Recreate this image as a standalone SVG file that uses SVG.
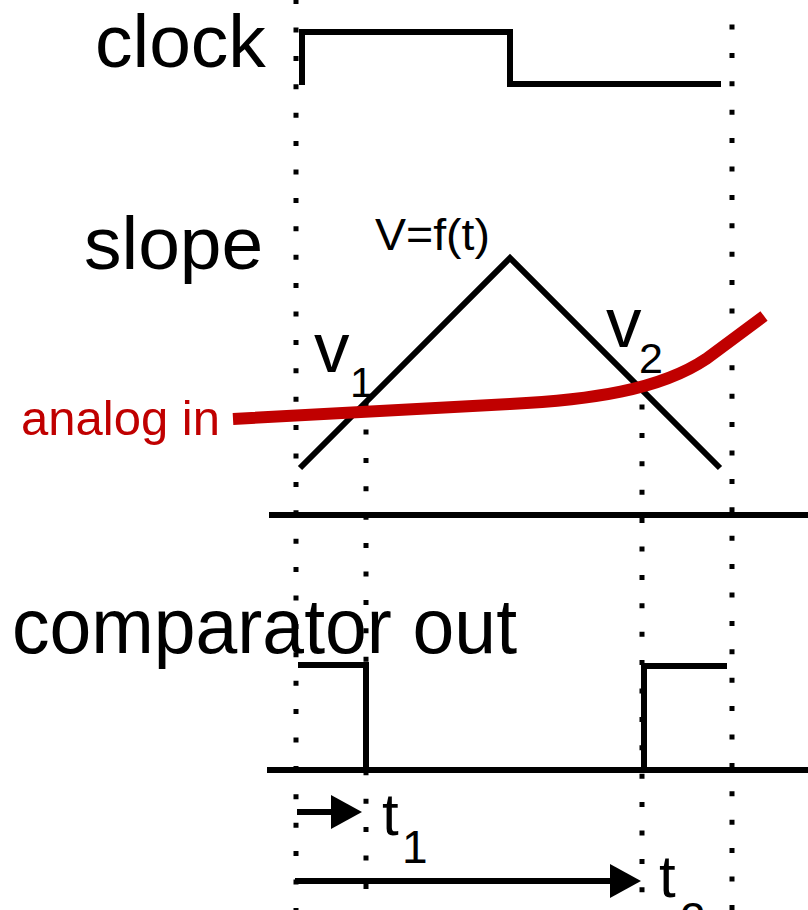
<svg xmlns="http://www.w3.org/2000/svg" width="808" height="910" viewBox="0 0 808 910">
<style>
.ln{fill:none;stroke:#000;stroke-width:6}
.dot{fill:none;stroke:#000;stroke-width:5;stroke-dasharray:5 23.4}
.red{fill:none;stroke:#c00000;stroke-width:12}
.txt{font-family:"Liberation Sans",Arial,Helvetica,sans-serif;fill:#000}
.arr{fill:none;stroke:#000;stroke-width:6;marker-end:url(#ah)}
</style>
<defs>
<marker id="ah" markerUnits="userSpaceOnUse" viewBox="0 0 31 34" markerWidth="31" markerHeight="34" refX="0" refY="17" orient="auto">
<path d="M0,0 L31,17 L0,34 z" fill="#000"/>
</marker>
</defs>
<rect width="808" height="910" fill="#fff"/>
<g id="guides">
<line class="dot" x1="296" y1="-0.9" x2="296" y2="910"/>
<line class="dot" x1="366" y1="401.1" x2="366" y2="910"/>
<line class="dot" x1="642" y1="404.5" x2="642" y2="910"/>
<line class="dot" x1="732" y1="24.5" x2="732" y2="910"/>
</g>
<g id="clock">
<text class="txt" x="95" y="67" font-size="75">clock</text>
<path class="ln" d="M302,85 V32 H510 V84 H721"/>
</g>
<g id="slope">
<text class="txt" x="84" y="269" font-size="75">slope</text>
<path class="ln" d="M300,468 L510,258 L720,468"/>
<text class="txt" x="375" y="250" font-size="44" textLength="115" lengthAdjust="spacingAndGlyphs">V=f(t)</text>
</g>
<g id="analog">
<path class="red" d="M233,419 L510,404 C590,400 660,390 706,359 L764,316"/>
<text class="txt" x="21" y="435" font-size="49" fill="#c00000" style="fill:#c00000">analog in</text>
</g>
<g id="v1">
<text class="txt" x="314" y="372" font-size="71">v</text>
<text class="txt" x="350" y="397" font-size="42">1</text>
</g>
<g id="v2">
<text class="txt" x="606" y="347" font-size="71">v</text>
<text class="txt" x="639" y="373" font-size="43">2</text>
</g>
<g id="axes">
<line class="ln" x1="269" y1="515" x2="808" y2="515"/>
<line class="ln" x1="267" y1="770" x2="808" y2="770"/>
</g>
<g id="comparator">
<text class="txt" x="12" y="653" font-size="78" textLength="505" lengthAdjust="spacingAndGlyphs">comparator out</text>
<path class="ln" d="M298,665 H366 V770"/>
<path class="ln" d="M644,770 V666 H727"/>
</g>
<g id="connectors">
<line class="arr" x1="297" y1="812" x2="331" y2="812"/>
<line class="arr" x1="295" y1="881" x2="610" y2="881"/>
</g>
<g id="t1">
<text class="txt" x="382" y="835" font-size="60">t</text>
<text class="txt" x="402" y="863" font-size="46">1</text>
</g>
<g id="t2">
<text class="txt" x="659" y="897" font-size="60">t</text>
<text class="txt" x="680" y="935" font-size="46">2</text>
</g>
</svg>
